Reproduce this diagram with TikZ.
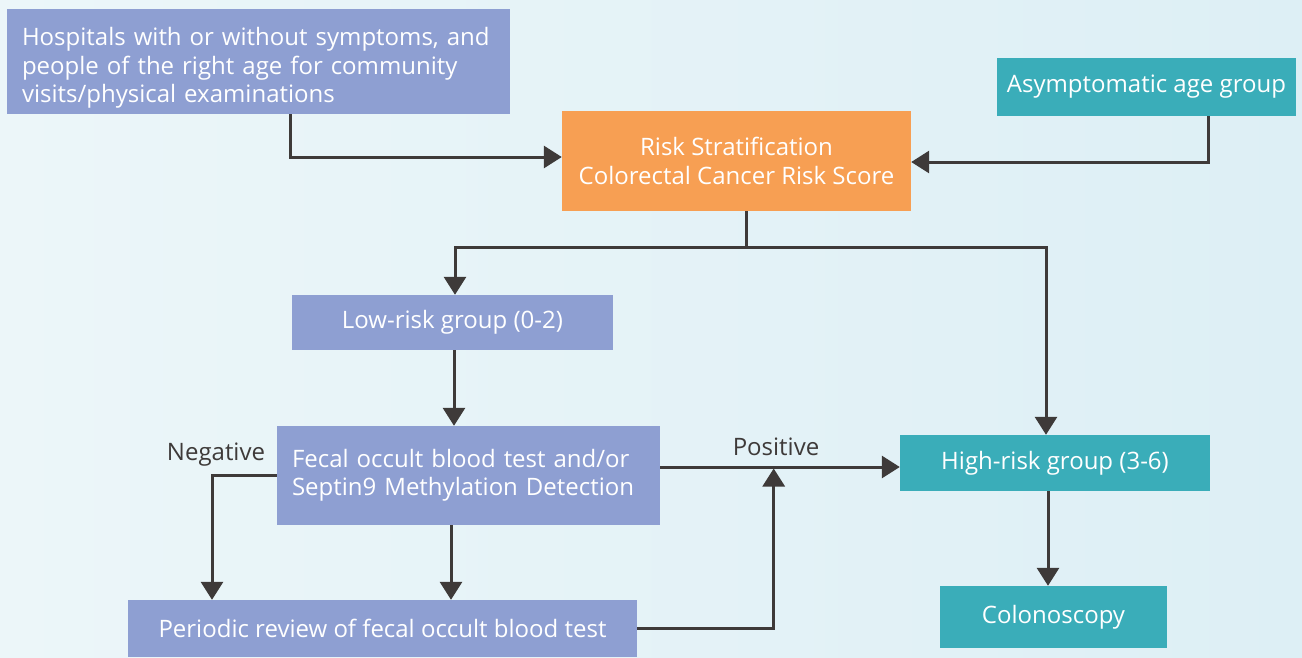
\documentclass[tikz,border=0pt]{standalone}
\usepackage{fontspec}
\setmainfont{Open Sans}
\usetikzlibrary{arrows.meta}
\definecolor{lav}{HTML}{8E9FD2}
\definecolor{org}{HTML}{F79F53}
\definecolor{teal}{HTML}{3AADB9}
\definecolor{arr}{HTML}{3E3A39}
\definecolor{bgA}{HTML}{ECF6F9}
\definecolor{bgB}{HTML}{DDEFF5}
\tikzset{
  box/.style={rectangle, inner sep=0pt, text=white, font=\fontsize{24}{28.5}\selectfont},
  lavbox/.style={box, fill=lav},
  orgbox/.style={box, fill=org},
  tealbox/.style={box, fill=teal},
  conn/.style={draw=arr, line width=3pt},
  arrow/.style={conn, -{Triangle[width=22pt,length=18pt]}},
  lbl/.style={text=arr, font=\fontsize{24}{28}\selectfont, inner sep=0pt},
}
\begin{document}
\begin{tikzpicture}[x=1pt,y=-1pt]
\shade[left color=bgA, right color=bgB] (0,0) rectangle (1302,657);
\useasboundingbox (0,0) rectangle (1302,657);
\node[lavbox, minimum width=503pt, minimum height=105pt, text width=473pt, align=left] (hosp) at (258.5,61.5) {\rule{0pt}{31pt}Hospitals with or without symptoms, and\\people of the right age for community\\visits/physical examinations};
\node[tealbox, minimum width=299pt, minimum height=58pt, align=center] (asym) at (1146.5,87) {Asymptomatic age group};
\node[orgbox, minimum width=349pt, minimum height=100pt, align=center] (risk) at (736.5,161) {Risk Stratification\\Colorectal Cancer Risk Score};
\node[lavbox, minimum width=321pt, minimum height=55pt, align=center] (low) at (452.5,322.5) {Low-risk group (0-2)};
\node[lavbox, minimum width=383pt, minimum height=99pt, text width=353pt, align=left] (fecal) at (468.5,475.5) {Fecal occult blood test and/or\\Septin9 Methylation Detection};
\node[tealbox, minimum width=310pt, minimum height=56pt, align=center] (high) at (1055,463) {High-risk group (3-6)};
\node[tealbox, minimum width=227pt, minimum height=62pt, align=center] (colo) at (1053.5,617) {Colonoscopy};
\node[lavbox, minimum width=509pt, minimum height=57pt, align=center] (peri) at (382.5,628.5) {Periodic review of fecal occult blood test};
\node[lbl] (neg) at (216,455) {Negative};
\node[lbl] (pos) at (776,447) {Positive};
% connectors
\draw[arrow] ([xshift=31.5pt]hosp.south) |- ([yshift=4pt]risk.west);
\draw[arrow] ([xshift=61.5pt]asym.south) |- ([yshift=-1pt]risk.east);
\coordinate (split) at ([xshift=9.5pt,yshift=-36pt]risk.south);
\draw[conn] ([xshift=9.5pt]risk.south) -- (split);
\draw[arrow] (split) -| ([xshift=2.5pt]low.north);
\draw[arrow] (split) -| ([xshift=-9pt]high.north);
\draw[arrow] ([xshift=1.5pt]low.south) -- ([xshift=-14.5pt]fecal.north);
\draw[arrow] (fecal.west) -| ([xshift=-170.5pt]peri.north);
\draw[arrow] ([xshift=-17.5pt]fecal.south) -- ([xshift=68.5pt]peri.north);
\coordinate (posL) at ([yshift=8.5pt]fecal.east);
\draw[arrow] (posL) -- (posL -| high.west);
\coordinate (merge) at ([xshift=113.5pt]posL);
\draw[arrow] (peri.east) -| ([yshift=-1.5pt]merge);
\draw[arrow] ([xshift=-7pt]high.south) -- ([xshift=-5.5pt]colo.north);
\end{tikzpicture}
\end{document}
